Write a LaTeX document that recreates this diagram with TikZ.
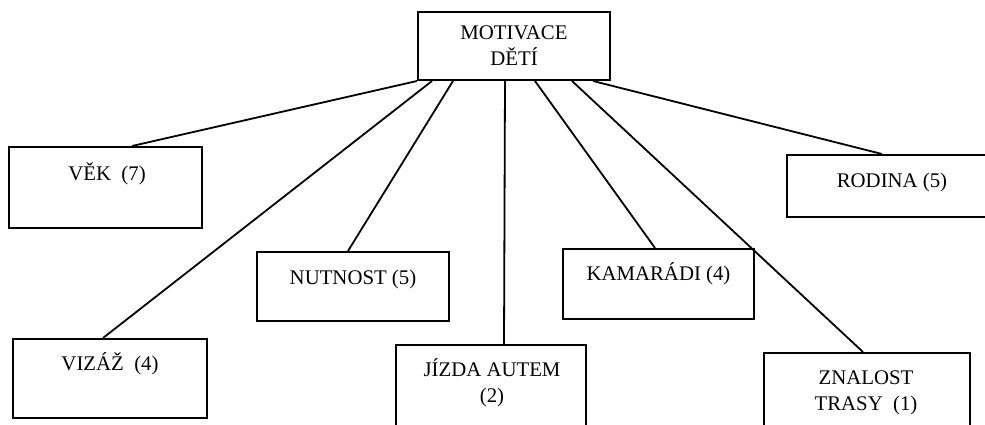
\documentclass[tikz,border=0pt]{standalone}
\usepackage{fontspec}
\setmainfont{Liberation Serif}
\begin{document}
\begin{tikzpicture}[x=1pt, y=-1pt,
  box/.style={draw=black, line width=2pt, rectangle, inner sep=0pt},
  lbl/.style={inner sep=0pt, anchor=base, align=center,
    font=\fontsize{20.8}{26}\selectfont},
  link/.style={draw=black, line width=1.8pt}]
\useasboundingbox (0,0) rectangle (985,425);
\clip (0,0) rectangle (985,425);

% frames
\node[box, minimum width=192pt, minimum height=68pt] (moti) at (514,46) {};
\node[box, minimum width=193pt, minimum height=81pt] (vek) at (105.5,187.5) {};
\node[box, minimum width=210pt, minimum height=62pt] (rod) at (892,186) {};
\node[box, minimum width=192pt, minimum height=69pt] (nut) at (353,286.5) {};
\node[box, minimum width=191pt, minimum height=70pt] (kam) at (658.5,284) {};
\node[box, minimum width=194pt, minimum height=79pt] (viz) at (110,378.5) {};
\node[box, minimum width=190pt, minimum height=100pt] (jiz) at (491,395) {};
\node[box, minimum width=206pt, minimum height=100pt] (zna) at (867,403) {};

% captions (base anchor of a two-line caption sits on its last line)
\node[lbl] (moti-t) at (514,66) {MOTIVACE\\DĚTÍ};
\node[lbl] (vek-t) at (107,180) {VĚK~~(7)};
\node[lbl] (rod-t) at (892,187) {RODINA (5)};
\node[lbl] (nut-t) at (353,284) {NUTNOST (5)};
\node[lbl] (kam-t) at (658.5,280) {KAMARÁDI (4)};
\node[lbl] (viz-t) at (110,370) {VIZÁŽ~~(4)};
\node[lbl] (jiz-t) at (492,402) {JÍZDA AUTEM\\(2)};
\node[lbl] (zna-t) at (866,410) {ZNALOST\\TRASY~~(1)};

% connectors
\draw[link] ([xshift=-97pt]moti.south) -- ([xshift=26.5pt]vek.north);
\draw[link] ([xshift=-82pt]moti.south) -- ([xshift=-7pt]viz.north);
\draw[link] ([xshift=-61pt]moti.south) -- ([xshift=-5pt]nut.north);
\draw[link] ([xshift=-9pt]moti.south) -- ([xshift=13pt]jiz.north);
\draw[link] ([xshift=21pt]moti.south) -- ([xshift=-3.5pt]kam.north);
\draw[link] ([xshift=58pt]moti.south) -- ([xshift=-4pt]zna.north);
\draw[link] ([xshift=79pt]moti.south) -- ([xshift=-10pt]rod.north);
\end{tikzpicture}
\end{document}
